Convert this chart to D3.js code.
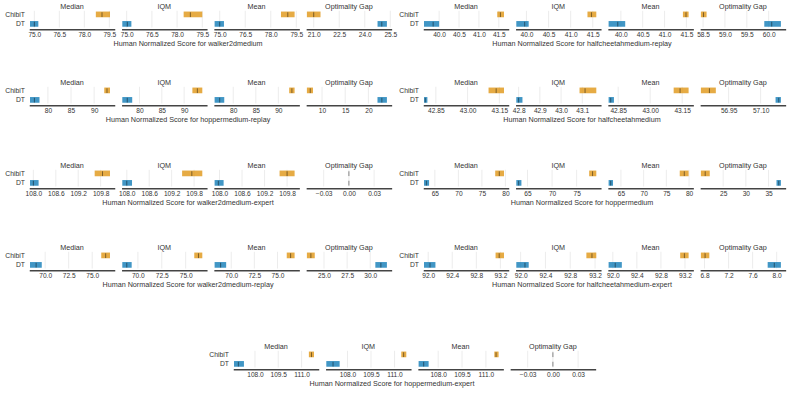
<!DOCTYPE html>
<html>
<head>
<meta charset="utf-8">
<script src="https://cdn.jsdelivr.net/npm/d3@7"></script>
<style>
  body { margin: 0; background: #fff; }
  text { font-family: "Liberation Sans", Arial, sans-serif; fill: #333; }
</style>
</head>
<body>
<script>
// algorithms, bottom row first (like rliable's y index)
const algorithms = ['DT', 'ChibiT'];
const metrics = ['Median', 'IQM', 'Mean', 'Optimality Gap'];
const tasks = ['walker2dmedium', 'halfcheetahmedium-replay', 'hoppermedium-replay', 'halfcheetahmedium',
  'walker2dmedium-expert', 'hoppermedium', 'walker2dmedium-replay', 'halfcheetahmedium-expert', 'hoppermedium-expert'];

// [lower, point, upper] per metric
const walker2dMediumChibiT = [[78.69, 79.06, 79.54], [78.39, 78.79, 79.5], [78.6, 79.0, 79.4], [20.6, 21.0, 21.4]];
const walker2dMediumDT = [[74.74, 75.0, 75.24], [74.74, 75.04, 75.28], [74.7, 75.0, 75.25], [24.75, 25.0, 25.3]];
const walker2dMediumTicks = [['75.0', '76.5', '78.0', '79.5'], ['75.0', '76.5', '78.0', '79.5'], ['75.0', '76.5', '78.0', '79.5'], ['21.0', '22.5', '24.0', '25.5']];

const halfcheetahMediumReplayChibiT = [[41.46, 41.54, 41.63], [41.38, 41.47, 41.58], [41.42, 41.49, 41.55], [58.45, 58.51, 58.58]];
const halfcheetahMediumReplayDT = [[39.62, 39.85, 40.0], [39.77, 39.96, 40.05], [39.72, 39.93, 40.1], [59.9, 60.07, 60.28]];
const halfcheetahMediumReplayTicks = [['40.0', '40.5', '41.0', '41.5'], ['40.0', '40.5', '41.0', '41.5'], ['40.0', '40.5', '41.0', '41.5'], ['58.5', '59.0', '59.5', '60.0']];

const hopperMediumReplayChibiT = [[92.19, 92.78, 93.43], [91.85, 92.96, 94.07], [92.4, 93.0, 93.6], [6.74, 7.46, 8.05]];
const hopperMediumReplayDT = [[76.13, 77.08, 78.18], [76.15, 77.26, 78.37], [75.86, 76.99, 78.0], [21.96, 22.9, 23.99]];
const hopperMediumReplayTicks = [['80', '85', '90'], ['80', '85', '90'], ['80', '85', '90'], ['10', '15', '20']];

const halfcheetahMediumChibiT = [[43.099, 43.135, 43.172], [43.087, 43.113, 43.166], [43.11, 43.14, 43.18], [56.82, 56.86, 56.89]];
const halfcheetahMediumDT = [[42.794, 42.80, 42.81], [42.789, 42.80, 42.818], [42.805, 42.815, 42.83], [57.17, 57.185, 57.195]];
const halfcheetahMediumTicks = [['42.85', '43.00', '43.15'], ['42.8', '42.9', '43.0', '43.1'], ['42.85', '43.00', '43.15'], ['56.95', '57.10']];

const walker2dMediumExpertChibiT = [[109.64, 109.85, 110.05], [109.48, 109.74, 110.02], [109.6, 109.8, 110.0], [0, 0, 0]];
const walker2dMediumExpertDT = [[107.91, 108.0, 108.14], [107.88, 108.0, 108.14], [107.87, 107.97, 108.11], [0, 0, 0]];
const walker2dMediumExpertTicks = [['108.0', '108.6', '109.2', '109.8'], ['108.0', '108.6', '109.2', '109.8'], ['108.0', '108.6', '109.2', '109.8'], ['\u22120.03', '0.00', '0.03']];

const hopperMediumChibiT = [[77.83, 78.7, 79.7], [77.55, 78.24, 79.0], [77.95, 78.95, 79.9], [20.1, 21.05, 22.05]];
const hopperMediumDT = [[62.69, 63.2, 63.77], [62.72, 63.2, 63.76], [62.28, 62.75, 63.25], [36.75, 37.25, 37.72]];
const hopperMediumTicks = [['65', '70', '75', '80'], ['65', '70', '75'], ['65', '70', '75', '80'], ['25', '30', '35']];

const walker2dMediumReplayChibiT = [[75.96, 76.43, 76.89], [75.9, 76.34, 76.74], [76.0, 76.42, 76.85], [23.15, 23.58, 24.0]];
const walker2dMediumReplayDT = [[68.39, 69.04, 69.64], [68.37, 68.84, 69.35], [68.2, 68.85, 69.45], [30.55, 31.15, 31.8]];
const walker2dMediumReplayTicks = [['70.0', '72.5', '75.0'], ['70.0', '72.5', '75.0'], ['70.0', '72.5', '75.0'], ['25.0', '27.5', '30.0']];

const halfcheetahMediumExpertChibiT = [[93.12, 93.18, 93.26], [93.06, 93.15, 93.22], [93.12, 93.19, 93.26], [6.74, 6.81, 6.88]];
const halfcheetahMediumExpertDT = [[91.93, 92.03, 92.12], [91.93, 92.07, 92.13], [91.93, 92.04, 92.15], [7.85, 7.96, 8.07]];
const halfcheetahMediumExpertTicks = [['92.0', '92.4', '92.8', '93.2'], ['92.0', '92.4', '92.8', '93.2'], ['92.0', '92.4', '92.8', '93.2'], ['6.8', '7.2', '7.6', '8.0']];

const hopperMediumExpertChibiT = [[111.47, 111.64, 111.8], [111.43, 111.58, 111.75], [111.53, 111.64, 111.8], [0, 0, 0]];
const hopperMediumExpertDT = [[106.65, 106.93, 107.29], [106.65, 107.08, 107.5], [106.77, 107.09, 107.4], [0, 0, 0]];
const hopperMediumExpertTicks = [['108.0', '109.5', '111.0'], ['108.0', '109.5', '111.0'], ['108.0', '109.5', '111.0'], ['\u22120.03', '0.00', '0.03']];

const panels = [
  [walker2dMediumDT, walker2dMediumChibiT, walker2dMediumTicks],
  [halfcheetahMediumReplayDT, halfcheetahMediumReplayChibiT, halfcheetahMediumReplayTicks],
  [hopperMediumReplayDT, hopperMediumReplayChibiT, hopperMediumReplayTicks],
  [halfcheetahMediumDT, halfcheetahMediumChibiT, halfcheetahMediumTicks],
  [walker2dMediumExpertDT, walker2dMediumExpertChibiT, walker2dMediumExpertTicks],
  [hopperMediumDT, hopperMediumChibiT, hopperMediumTicks],
  [walker2dMediumReplayDT, walker2dMediumReplayChibiT, walker2dMediumReplayTicks],
  [halfcheetahMediumExpertDT, halfcheetahMediumExpertChibiT, halfcheetahMediumExpertTicks],
  [hopperMediumExpertDT, hopperMediumExpertChibiT, hopperMediumExpertTicks],
];

const colors = { DT: '#0173b2', ChibiT: '#de8f05' };

// where each small figure sits: left edge of first axes, top offset
const slots = [[30, 0], [424, 0], [30, 76], [424, 76], [30, 159], [424, 159], [30, 241], [424, 241], [234, 340]];
const subW = 84, subStep = 92.3, barH = 0.6;

const svg = d3.select('body').append('svg')
  .attr('width', 789)
  .attr('height', 393);

const num = s => +s.replace('\u2212', '-');

panels.forEach(([dt, chibit, ticks], k) => {
  const [x0, oy] = slots[k];
  const g = svg.append('g').attr('transform', `translate(${x0},${oy})`);
  const series = [dt, chibit];

  // y: DT at 0, ChibiT at 1
  const y = d3.scaleLinear().domain([-0.38, 1.38]).range([27.5, 10.8]);
  const spineY = 29.3;

  metrics.forEach((metric, i) => {
    const lo = d3.min(series, s => s[i][0]);
    const hi = d3.max(series, s => s[i][2]);
    // matplotlib autoscale: sticky at bar left, 5% margin on the right
    const domain = hi - lo > 0 ? [lo, hi + 0.05 * (hi - lo)] : [-0.05, 0.05];
    const x = d3.scaleLinear().domain(domain).range([0, subW]);
    const tv = ticks[i].map(num);

    const sg = g.append('g').attr('transform', `translate(${i * subStep},0)`);

    // grid
    sg.selectAll('.grid').data(tv).enter().append('line')
      .attr('x1', d => x(d)).attr('x2', d => x(d))
      .attr('y1', y(1.38)).attr('y2', y(-0.38))
      .attr('stroke', '#b0b0b0').attr('stroke-opacity', 0.3).attr('stroke-width', 0.8);

    // interval bars
    sg.selectAll('.bar').data(series).enter().append('rect')
      .attr('x', d => x(d[i][0]))
      .attr('width', d => x(d[i][2]) - x(d[i][0]))
      .attr('y', (d, j) => y(j + barH / 2))
      .attr('height', (d, j) => y(j - barH / 2) - y(j + barH / 2))
      .attr('fill', (d, j) => colors[algorithms[j]])
      .attr('fill-opacity', 0.75);

    // point estimates
    sg.selectAll('.pt').data(series).enter().append('line')
      .attr('x1', d => x(d[i][1])).attr('x2', d => x(d[i][1]))
      .attr('y1', (d, j) => y(j - 7.5 * barH / 16))
      .attr('y2', (d, j) => y(j + 6 * barH / 16))
      .attr('stroke', '#000').attr('stroke-opacity', 0.5).attr('stroke-width', 0.9);

    // bottom axis
    const ax = sg.append('g').attr('transform', `translate(0,${spineY})`)
      .call(d3.axisBottom(x).tickValues(tv).tickSize(0).tickPadding(3)
        .tickFormat((d, n) => ticks[i][n]));
    ax.select('.domain').attr('stroke', '#444').attr('stroke-width', 1.5)
      .attr('stroke-linecap', 'square');
    ax.selectAll('text').attr('font-size', 6.6).attr('fill', '#333')
      .attr('font-family', '"Liberation Sans", Arial, sans-serif');

    // title
    sg.append('text').attr('x', subW / 2).attr('y', 8.5)
      .attr('text-anchor', 'middle').attr('font-size', 7.2)
      .text(metric);
  });

  // algorithm labels
  g.selectAll('.alg').data(algorithms).enter().append('text')
    .attr('x', -5).attr('y', (d, j) => y(j) + 2.4)
    .attr('text-anchor', 'end').attr('font-size', 6.8)
    .text(d => d);

  g.append('text').attr('x', 158).attr('y', 45.5)
    .attr('text-anchor', 'middle').attr('font-size', 7.2)
    .text('Human Normalized Score for ' + tasks[k]);
});
</script>
</body>
</html>
